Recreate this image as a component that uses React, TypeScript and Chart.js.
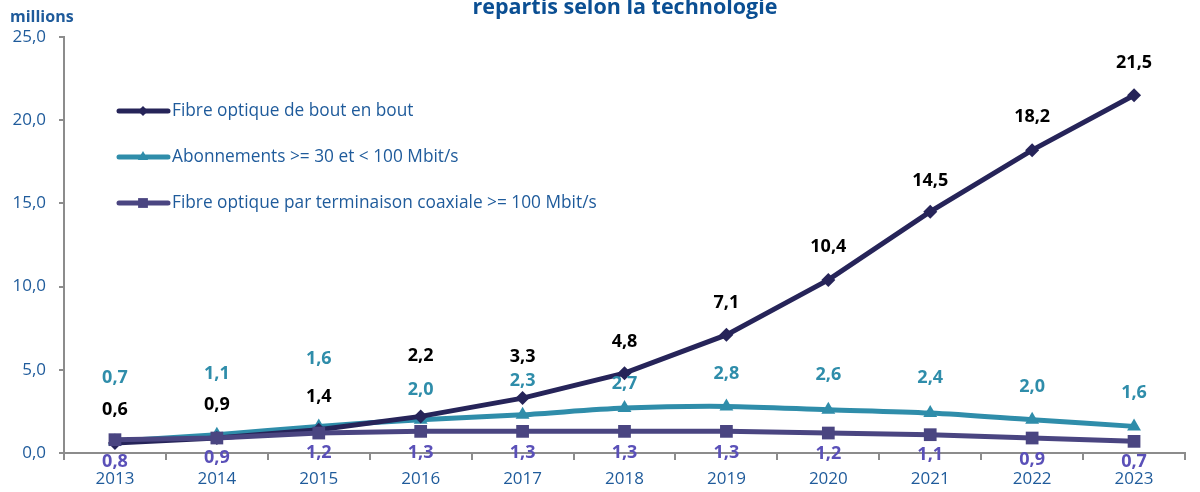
import React, { useEffect, useRef } from "react";
import { Chart, registerables } from "chart.js";

Chart.register(...registerables);

const years = ["2013", "2014", "2015", "2016", "2017", "2018", "2019", "2020", "2021", "2022", "2023"];
const fibreValues = [0.6, 0.9, 1.4, 2.2, 3.3, 4.8, 7.1, 10.4, 14.5, 18.2, 21.5];
const abonnementsValues = [0.7, 1.1, 1.6, 2.0, 2.3, 2.7, 2.8, 2.6, 2.4, 2.0, 1.6];
const coaxValues = [0.8, 0.9, 1.2, 1.3, 1.3, 1.3, 1.3, 1.2, 1.1, 0.9, 0.7];
const yTicks = [0, 5, 10, 15, 20, 25];

const seriesNames = [
  "Fibre optique de bout en bout",
  "Abonnements >= 30 et < 100 Mbit/s",
  "Fibre optique par terminaison coaxiale >= 100 Mbit/s",
];

// label nudges (pixels, vertical) – styling only
const fibreLabelDy = [-33, -33, -33, -61, -41, -31, -32, -33, -31, -33, -32];
const abonnementsLabelDy = [-63, -61, -68, -30, -34, -24, -33, -35, -35, -33, -34];
const coaxLabelDy = [22, 20, 20, 22, 22, 22, 22, 21, 20, 22, 21];

const FONT = "'Open Sans', 'Noto Sans', sans-serif";
const BLUE = "#1f5b9b";
const C_FIBRE = "#262459";
const C_ABO = "#2f8daa";
const C_COAX = "#4a4581";
const C_COAX_LABEL = "#5a50b8";

const fmt = (v: number) => v.toFixed(1).replace(".", ",");

const labelPlugin = {
  id: "pointLabels",
  afterDatasetsDraw(chart: any) {
    const ctx = chart.ctx;
    const cfg = [
      { dy: fibreLabelDy, color: "#000000" },
      { dy: abonnementsLabelDy, color: C_ABO },
      { dy: coaxLabelDy, color: C_COAX_LABEL },
    ];
    ctx.save();
    ctx.font = `bold 18px ${FONT}`;
    ctx.textAlign = "center";
    ctx.textBaseline = "middle";
    chart.data.datasets.forEach((ds: any, i: number) => {
      const meta = chart.getDatasetMeta(i);
      ctx.fillStyle = cfg[i].color;
      meta.data.forEach((pt: any, j: number) => {
        ctx.fillText(fmt(ds.data[j]), pt.x, pt.y + cfg[i].dy[j]);
      });
    });
    ctx.restore();
  },
};

function drawMarker(ctx: CanvasRenderingContext2D, style: string, x: number, y: number, r: number, color: string) {
  ctx.save();
  ctx.fillStyle = color;
  ctx.beginPath();
  if (style === "rectRot") {
    ctx.moveTo(x, y - r);
    ctx.lineTo(x + r, y);
    ctx.lineTo(x, y + r);
    ctx.lineTo(x - r, y);
  } else if (style === "triangle") {
    ctx.moveTo(x, y - r);
    ctx.lineTo(x + r * 0.87, y + r * 0.5);
    ctx.lineTo(x - r * 0.87, y + r * 0.5);
  } else {
    ctx.rect(x - r * 0.7, y - r * 0.7, r * 1.4, r * 1.4);
  }
  ctx.closePath();
  ctx.fill();
  ctx.restore();
}

const decorPlugin = {
  id: "decor",
  afterDraw(chart: any) {
    const ctx = chart.ctx;
    ctx.save();
    // title (partially cut at the top)
    ctx.fillStyle = "#0b4f93";
    ctx.font = `bold 21.5px ${FONT}`;
    ctx.textAlign = "center";
    ctx.textBaseline = "alphabetic";
    ctx.fillText("repartis selon la technologie", 625, 14);
    // unit
    ctx.fillStyle = BLUE;
    ctx.font = `bold 16px ${FONT}`;
    ctx.textAlign = "left";
    ctx.fillText("millions", 10, 22);

    // legend
    const colors = [C_FIBRE, C_ABO, C_COAX];
    const styles = ["rectRot", "triangle", "rect"];
    const radii = [5, 6, 7];
    const ys = [111, 157, 203];
    for (let i = 0; i < 3; i++) {
      ctx.strokeStyle = colors[i];
      ctx.lineWidth = 5;
      ctx.lineCap = "round";
      ctx.beginPath();
      ctx.moveTo(119, ys[i]);
      ctx.lineTo(168, ys[i]);
      ctx.stroke();
      drawMarker(ctx, styles[i], 143, ys[i], radii[i], colors[i]);
      ctx.fillStyle = BLUE;
      ctx.font = `17.3px ${FONT}`;
      ctx.textBaseline = "middle";
      ctx.fillText(seriesNames[i], 172, ys[i]);
    }
    ctx.restore();
  },
};

export default function App() {
  const ref = useRef<HTMLCanvasElement>(null);
  useEffect(() => {
    if (!ref.current) return;
    const chart = new Chart(ref.current, {
      type: "line",
      data: {
        labels: years,
        datasets: [
          {
            label: seriesNames[0],
            data: fibreValues,
            borderColor: C_FIBRE,
            backgroundColor: C_FIBRE,
            borderWidth: 5,
            pointStyle: "rectRot",
            pointRadius: 7,
            pointBorderWidth: 0,
            tension: 0,
            order: 1,
          },
          {
            label: seriesNames[1],
            data: abonnementsValues,
            borderColor: C_ABO,
            backgroundColor: C_ABO,
            borderWidth: 5,
            pointStyle: "triangle",
            pointRadius: 8,
            pointBorderWidth: 0,
            tension: 0.3,
            order: 2,
          },
          {
            label: seriesNames[2],
            data: coaxValues,
            borderColor: C_COAX,
            backgroundColor: C_COAX,
            borderWidth: 5,
            pointStyle: "rect",
            pointRadius: 9,
            pointBorderWidth: 0,
            tension: 0,
            order: 0,
          },
        ],
      },
      options: {
        responsive: false,
        animation: false,
        layout: { padding: { top: 37, right: 15, left: 0, bottom: 0 } },
        plugins: { legend: { display: false }, tooltip: { enabled: false }, title: { display: false } },
        scales: {
          x: {
            offset: true,
            grid: { display: true, drawOnChartArea: false, offset: true, tickLength: 7, color: "#8c8c8c", lineWidth: 2 },
            border: { color: "#8c8c8c", width: 2 },
            ticks: { color: BLUE, font: { family: FONT, size: 17 }, padding: 9, maxRotation: 0 },
            afterFit: (s: any) => { s.height = 39; },
          },
          y: {
            min: 0,
            max: 25,
            afterBuildTicks: (s: any) => { s.ticks = yTicks.map((v) => ({ value: v })); },
            grid: { display: true, drawOnChartArea: false, tickLength: 5, color: "#8c8c8c", lineWidth: 2 },
            border: { color: "#8c8c8c", width: 2 },
            ticks: {
              color: BLUE,
              font: { family: FONT, size: 17 },
              padding: 13,
              callback: (v: any) => fmt(Number(v)),
            },
            afterFit: (s: any) => { s.width = 64; },
          },
        },
      },
      plugins: [labelPlugin, decorPlugin],
    });
    return () => chart.destroy();
  }, []);
  return (
    <div style={{ position: "absolute", left: 0, top: 0, width: 1200, height: 492, background: "#fff" }}>
      <canvas ref={ref} width={1200} height={492} style={{ display: "block" }} />
    </div>
  );
}
